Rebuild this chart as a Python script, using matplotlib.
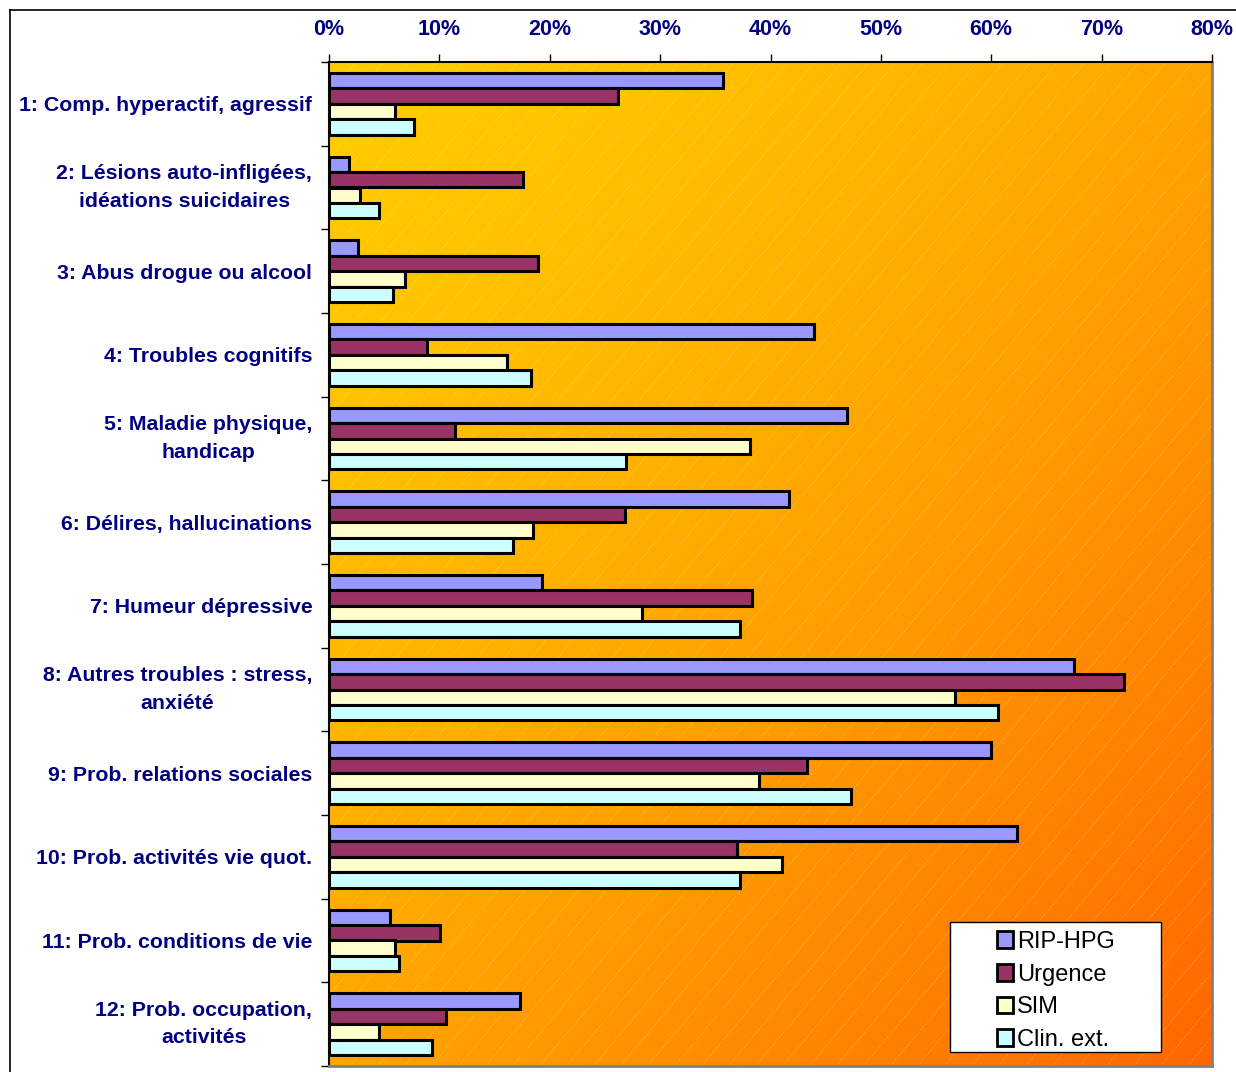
import numpy as np
import matplotlib.pyplot as plt
from matplotlib.lines import Line2D
from matplotlib.patches import Rectangle, Patch

categories = [
    "1: Comp. hyperactif, agressif",
    "2: Lésions auto-infligées,\nidéations suicidaires",
    "3: Abus drogue ou alcool",
    "4: Troubles cognitifs",
    "5: Maladie physique,\nhandicap",
    "6: Délires, hallucinations",
    "7: Humeur dépressive",
    "8: Autres troubles : stress,\nanxiété",
    "9: Prob. relations sociales",
    "10: Prob. activités vie quot.",
    "11: Prob. conditions de vie",
    "12: Prob. occupation,\nactivités",
]

rip_hpg = [35.7, 1.8, 2.6, 43.9, 46.9, 41.7, 19.3, 67.5, 60.0, 62.3, 5.5, 17.3]
urgence = [26.2, 17.6, 18.9, 8.9, 11.4, 26.8, 38.3, 72.0, 43.3, 37.0, 10.1, 10.6]
sim = [6.0, 2.8, 6.9, 16.1, 38.1, 18.5, 28.4, 56.7, 39.0, 41.0, 6.0, 4.5]
clin_ext = [7.7, 4.5, 5.8, 18.3, 26.9, 16.7, 37.2, 60.6, 47.3, 37.2, 6.3, 9.3]

series_names = ["RIP-HPG", "Urgence", "SIM", "Clin. ext."]
series_values = [rip_hpg, urgence, sim, clin_ext]
colors = ["#9999FF", "#993366", "#FFFFCC", "#CCFFFF"]
xticks = [0, 10, 20, 30, 40, 50, 60, 70, 80]

navy = "#000080"
plt.rcParams['font.family'] = ['Liberation Sans', 'DejaVu Sans']

W, H = 1236, 1072
fig = plt.figure(figsize=(W / 100, H / 100), dpi=100)
fig.patch.set_facecolor("white")

# outer chart frame (only top/left visible in the picture)
fig.add_artist(Line2D([10 / W, 10 / W], [0, 1 - 10 / H], color="black", lw=1.2))
fig.add_artist(Line2D([10 / W, 1], [1 - 10 / H, 1 - 10 / H], color="black", lw=1.2))

left, right, top, bottom = 329, 1212, 62, 1066
ax = fig.add_axes([left / W, 1 - bottom / H, (right - left) / W, (bottom - top) / H])

# gradient background, yellow top-left to orange bottom-right
n = 300
gx, gy = np.meshgrid(np.linspace(0, 1, n), np.linspace(0, 1, n))
t = ((gx + gy) / 2) ** 1.4
c0 = np.array([255, 204, 0]) / 255
c1 = np.array([255, 102, 0]) / 255
img = c0[None, None, :] * (1 - t[..., None]) + c1[None, None, :] * t[..., None]
ax.imshow(img, extent=[0, 1, 0, 1], transform=ax.transAxes, aspect="auto",
          origin="upper", zorder=0)

# faint diagonal hatch lines
ax_w, ax_h = right - left, bottom - top
run = ax_h / np.tan(np.radians(50)) / ax_w
step = 27 / ax_w
for u in np.arange(-run, 1 + step, step):
    ax.plot([u, u + run], [0, 1], transform=ax.transAxes, color="white",
            lw=0.6, alpha=0.3, ls=(0, (2, 2)), zorder=1, clip_on=True)

y = np.arange(len(categories))
bh = 0.185
for i, (vals, col) in enumerate(zip(series_values, colors)):
    ax.barh(y - 1.5 * bh + i * bh, vals, height=bh, color=col,
            edgecolor="black", linewidth=2.2, zorder=3)

ax.set_xlim(0, 80)
ax.set_ylim(len(categories) - 0.5, -0.5)

ax.xaxis.tick_top()
ax.set_xticks(xticks)
ax.set_xticklabels([f"{v}%" for v in xticks], fontsize=15.5, fontweight="bold", color=navy)
ax.tick_params(axis="x", direction="out", length=6, width=1, pad=10, color="black")

ax.set_yticks(y)
ax.set_yticklabels(categories, fontsize=15.3, fontweight="bold", color=navy)
for lab in ax.get_yticklabels():
    lab.set_multialignment("center")
    lab.set_linespacing(1.55)
    if "\n" in lab.get_text():
        lab.set_verticalalignment("center")
ax.tick_params(axis="y", which="major", length=0, pad=12)
ax.set_yticks(np.arange(-0.5, len(categories)), minor=True)
ax.tick_params(axis="y", which="minor", direction="out", length=6, width=1, color="black")

ax.spines["top"].set_color("black")
ax.spines["top"].set_linewidth(1.5)
ax.spines["left"].set_color("black")
ax.spines["left"].set_linewidth(1.5)
ax.spines["right"].set_color("#808080")
ax.spines["right"].set_linewidth(2)
ax.spines["bottom"].set_color("#808080")
ax.spines["bottom"].set_linewidth(2)

# legend box drawn by hand, entries centered inside
fig.add_artist(Rectangle((950 / W, 1 - 1052 / H), 211 / W, 130 / H,
                         transform=fig.transFigure, facecolor="white",
                         edgecolor="black", lw=1, zorder=5))
handles = [Patch(facecolor=c, edgecolor="black", linewidth=2) for c in colors]
leg = fig.legend(handles, series_names, loc="upper left",
                 bbox_to_anchor=(978 / W, 1 - 912 / H), frameon=False,
                 fontsize=17, handlelength=0.7, handleheight=0.7,
                 handletextpad=0.15, labelspacing=0.45, borderpad=0.3)
leg.set_zorder(6)

fig.savefig("out.png", dpi=100)
